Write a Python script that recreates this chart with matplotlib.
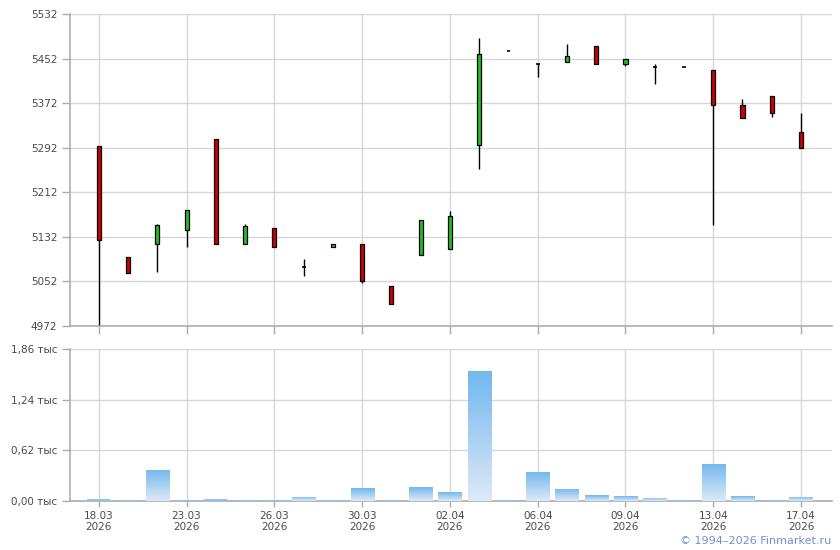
import numpy as np
import matplotlib
matplotlib.use('Agg')
import matplotlib.pyplot as plt
from matplotlib.patches import Rectangle

# daily OHLC, one entry per trading day
opens = [5295, 5095, 5120, 5144, 5307, 5120, 5147, 5078, 5113, 5119, 5044, 5099, 5111,
         5296, 5465, 5442, 5445, 5474, 5443, 5436, 5436, 5431, 5368, 5384, 5320]
highs = [5295, 5095, 5155, 5181, 5307, 5155, 5147, 5092, 5119, 5119, 5044, 5162, 5178,
         5488, 5465, 5442, 5478, 5474, 5451, 5442, 5436, 5431, 5379, 5384, 5354]
lows = [4972, 5067, 5068, 5113, 5120, 5120, 5113, 5061, 5113, 5049, 5011, 5099, 5111,
        5254, 5465, 5418, 5445, 5442, 5439, 5407, 5436, 5154, 5345, 5347, 5291]
closes = [5126, 5067, 5154, 5181, 5120, 5151, 5113, 5078, 5119, 5052, 5011, 5162, 5169,
          5461, 5465, 5442, 5456, 5442, 5451, 5436, 5436, 5368, 5345, 5354, 5291]
# volume, thousands
volumes = [0.028, 0.018, 0.38, 0.018, 0.028, 0.018, 0.018, 0.053, 0.018, 0.159, 0.018, 0.171, 0.11,
           1.59, 0.018, 0.355, 0.147, 0.073, 0.061, 0.037, 0.018, 0.453, 0.061, 0.018, 0.049]

date_ticks = [0, 3, 6, 9, 12, 15, 18, 21, 24]
date_labels = ['18.03\n2026', '23.03\n2026', '26.03\n2026', '30.03\n2026', '02.04\n2026',
               '06.04\n2026', '09.04\n2026', '13.04\n2026', '17.04\n2026']
price_ticks = [4972, 5052, 5132, 5212, 5292, 5372, 5452, 5532]
vol_ticks = [0, 0.62, 1.24, 1.86]

grid_c = '#d3d7dc'
spine_c = '#a9adb3'
text_c = '#4a4a4a'

plt.rcParams['font.family'] = 'DejaVu Sans'
fig = plt.figure(figsize=(8.4, 5.5), dpi=100)
ax1 = fig.add_axes([0.0839, 0.4073, 0.9066, 0.5673])
ax2 = fig.add_axes([0.0839, 0.0891, 0.9066, 0.2764])

x = np.arange(len(opens))
xlim = (-0.97, 25.06)


def style(ax):
    for s in ['top', 'right']:
        ax.spines[s].set_visible(False)
    for s in ['left', 'bottom']:
        ax.spines[s].set_color(spine_c)
        ax.spines[s].set_linewidth(1.2)
    ax.grid(True, color=grid_c, linewidth=1)
    ax.set_axisbelow(True)
    ax.tick_params(colors=spine_c, labelcolor=text_c, labelsize=7.5, length=6, width=1)
    ax.set_xlim(*xlim)
    ax.set_xticks(date_ticks)


# candles
style(ax1)
ax1.set_ylim(4972, 5532)
ax1.set_yticks(price_ticks)
ax1.set_yticklabels([str(t) for t in price_ticks])
ax1.tick_params(axis='x', labelbottom=False)
ax1.vlines(x, lows, highs, color='black', linewidth=1, zorder=2)
bw = 0.14
for i in range(len(x)):
    o, c = opens[i], closes[i]
    if o == c:
        ax1.hlines(o, x[i] - 0.065, x[i] + 0.065, color='black', linewidth=1.2, zorder=3)
        continue
    col = '#1fc01f' if c > o else '#d00000'
    ax1.add_patch(Rectangle((x[i] - bw / 2, min(o, c)), bw, abs(c - o),
                            facecolor=col, edgecolor='black', linewidth=0.9, zorder=3))

# volume bars with vertical gradient
style(ax2)
ax2.set_ylim(0, 1.86)
ax2.set_yticks(vol_ticks)
ax2.set_yticklabels([('%.2f' % t).replace('.', ',') + ' тыс' for t in vol_ticks])
ax2.set_xticklabels(date_labels, linespacing=1.1)
ax2.tick_params(axis='x', length=4)
bars = ax2.bar(x, volumes, width=0.79, color='#8cc4ef', linewidth=0, zorder=3)
grad = np.linspace(0, 1, 100).reshape(-1, 1)
cmap = matplotlib.colors.LinearSegmentedColormap.from_list('vol', ['#dde9f6', '#72b8ee'])
for b in bars:
    bx, by = b.get_x(), b.get_y()
    w, h = b.get_width(), b.get_height()
    if h < 0.03:
        continue
    im = ax2.imshow(grad, extent=[bx, bx + w, by, by + h], origin='lower', cmap=cmap,
                    aspect='auto', zorder=3.5)
    im.set_clip_path(b)
ax2.set_xlim(*xlim)
ax2.set_ylim(0, 1.86)

fig.text(0.99, 0.0065, '© 1994–2026 Finmarket.ru', ha='right', va='bottom',
         color='#6f8fdc', fontsize=8)

fig.savefig('out.png', dpi=100)
